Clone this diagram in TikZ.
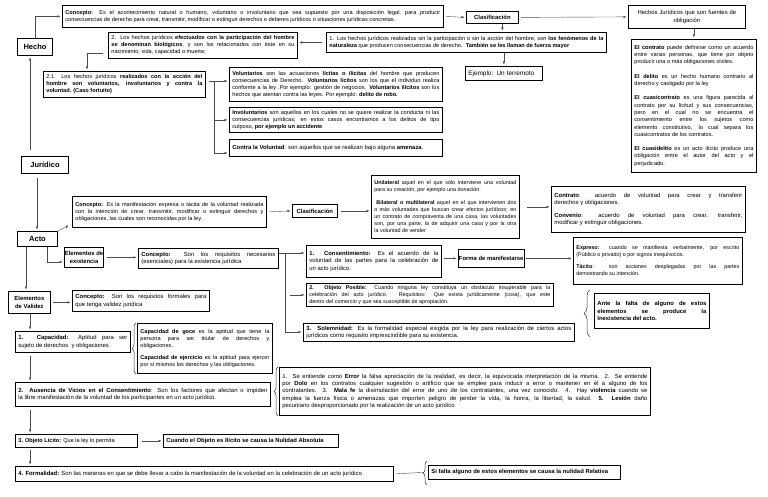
\documentclass[tikz,border=0pt]{standalone}
\usepackage{fontspec}
\setmainfont{Liberation Sans}
\usetikzlibrary{arrows.meta,decorations.pathreplacing}
\hyphenpenalty=10000
\exhyphenpenalty=10000
\tolerance=9999
\emergencystretch=4pt

\begin{document}
\begin{tikzpicture}[x=1pt, y=-1pt,
  box/.style={draw, line width=0.8pt, anchor=north west, inner xsep=3pt, inner ysep=2pt, align=justify, font=\fontsize{5.6}{6.9}\selectfont},
  bbox/.style={box, font=\fontsize{5.9}{7.2}\selectfont},
  hd/.style={draw, line width=1pt, anchor=north west, inner sep=1pt, font=\bfseries\fontsize{7.5}{9}\selectfont},
  tag/.style={draw, line width=0.8pt, anchor=north west, inner xsep=0.5pt, inner ysep=1pt, align=center, font=\bfseries\fontsize{5.9}{7.2}\selectfont},
  bold/.style={font=\bfseries\fontsize{5.9}{7.2}\selectfont},
  arr/.style={draw=black!70, line width=0.4pt, -{Latex[length=3pt,width=2.4pt]}, shorten >=1.5pt},
  ln/.style={draw=black!70, line width=0.4pt},
  brc/.style={draw=black!80, line width=0.5pt, decorate, decoration={brace, amplitude=#1}},
  brc/.default=4pt]
  \fill[white] (0,0) rectangle (768,497);
  \useasboundingbox (0,0) rectangle (768,497);

  % Hecho
  \node[hd, minimum width=35pt, minimum height=17pt] (hecho) at (17,38) {Hecho};
  \node[box, text width=375pt, minimum height=22pt] (cptoHecho) at (62,5) {\textbf{Concepto:} Es el acontecimiento natural o humano, voluntario o involuntario que sea supuesto por una disposición legal, para producir\linebreak consecuencias de derecho para crear, transmitir, modificar o extinguir derechos o deberes jurídicos o situaciones jurídicas concretas.};
  \node[tag, minimum width=52pt, minimum height=12pt] (clasif) at (466,11) {Clasificación};
  \node[bbox, align=center, text width=111pt, minimum height=23pt] (fuentes) at (628,5) {Hechos Jurídicos que son fuentes de\\obligación};
  \node[box, text width=274pt, minimum height=20pt] (natur) at (326,32) {1. Los hechos jurídicos realizados sin la participación o sin la acción del hombre, son \textbf{los fenómenos de la}\linebreak \textbf{naturaleza} que producen consecuencias de derecho.\ \ \textbf{También se les llaman de fuerza mayor}};
  \node[box, text width=183pt, minimum height=26pt] (biolog) at (108,32) {2. Los hechos jurídicos \textbf{efectuados con la participación del hombre}\linebreak \textbf{se denominan biológicos}, y son los relacionados con éste en su\linebreak nacimiento, vida, capacidad o muerte;};
  \node[box, align=left, text width=71pt, minimum height=14pt, font=\fontsize{6.4}{7.4}\selectfont] (ejemplo) at (465,66) {Ejemplo: Un terremoto};
  \node[box, text width=156pt, minimum height=26pt] (accion) at (43,71) {2.1\ \ Los hechos jurídicos \textbf{realizados con la acción del}\linebreak \textbf{hombre son voluntarios, involuntarios y contra la}\linebreak \textbf{voluntad. (Caso fortuito)}};
  \node[box, text width=207pt, minimum height=34pt] (volunt) at (229,67) {\textbf{Voluntarios} son las actuaciones \textbf{lícitas o ilícitas} del hombre que producen\linebreak consecuencias de Derecho. \textbf{Voluntarios lícitos} son los que el individuo realiza\linebreak conforme a la ley .Por ejemplo: gestión de negocios. \textbf{Voluntarios ilícitos} son los\linebreak hechos que atentan contra las leyes. Por ejemplo: \textbf{delito de robo.}};
  \node[box, text width=207pt, minimum height=25pt] (involunt) at (229,107) {\textbf{Involuntarios} son aquellos en los cuales no se quiere realizar la conducta ni las\linebreak consecuencias jurídicas; en estos casos encontramos a los delitos de tipo\linebreak culposo, \textbf{por ejemplo un accidente}};
  \node[bbox, text width=207pt, minimum height=17pt] (contra) at (229,139) {\textbf{Contra la Voluntad}: son aquellos que se realizan bajo alguna \textbf{amenaza}.};
  \node[box, font=\fontsize{5.6}{7.3}\selectfont, text width=119pt, minimum height=133pt] (obligac) at (631,39) {\textbf{El contrato} puede definirse como un acuerdo\linebreak entre varias personas, que tiene por objeto\linebreak producir una o más obligaciones civiles.\par\vspace{7pt}
    \textbf{El delito} es un hecho humano contrario al\linebreak derecho y castigado por la ley\par\vspace{7pt}
    \textbf{El cuasicontrato} es una figura parecida al\linebreak contrato por su licitud y sus consecuencias,\linebreak pero en el cual no se encuentra el\linebreak consentimiento entre los sujetos como\linebreak elemento constitutivo, lo cual separa los\linebreak cuasicontratos de los contratos.\par\vspace{7pt}
    \textbf{El cuasidelito} es un acto ilícito produce una\linebreak obligación entre el autor del acto y el\linebreak perjudicado.};

  % Jurídico
  \node[hd, minimum width=47pt, minimum height=17pt] (juridico) at (21,156) {Jurídico};

  % Acto
  \node[box, text width=188pt, minimum height=31pt] (cptoActo) at (72,196) {\textbf{Concepto:} Es la manifestación expresa o tácita de la voluntad realizada\linebreak con la intención de crear, transmitir, modificar o extinguir derechos y\linebreak obligaciones, las cuales son reconocidas por la ley.};
  \node[tag, minimum width=45pt, minimum height=13pt] (clasif2) at (292,204) {Clasificación};
  \node[box, font=\fontsize{5.4}{7}\selectfont, text width=142pt, minimum height=63pt] (unilat) at (371,175) {\textbf{Unilateral} aquel en el que sólo interviene una voluntad\linebreak para su creación, por ejemplo una donación.\par\vspace{6pt}
    \hspace*{2pt}\textbf{Bilateral o multilateral} aquel en el que intervienen dos\linebreak o más voluntades que buscan crear efectos jurídicos; en\linebreak un contrato de compraventa de una casa, las voluntades\linebreak son, por una parte, la de adquirir una casa y por la otra\linebreak la voluntad de vender};
  \node[bbox, text width=188pt, minimum height=46pt] (contrato) at (551,186) {\textbf{Contrato}: acuerdo de voluntad para crear y transferir\linebreak derechos y obligaciones.\par\vspace{5pt}
    \textbf{Convenio}: acuerdo de voluntad para crear, transferir,\linebreak modificar y extinguir obligaciones.};
  \node[hd, minimum width=40pt, minimum height=15pt] (acto) at (17,231) {Acto};
  \node[tag, minimum width=38pt, minimum height=20pt] (elemExist) at (64,247) {Elementos de\\existencia};
  \node[bbox, text width=134pt, minimum height=20pt] (cptoExist) at (138,248) {\textbf{Concepto:}\ \ Son los requisitos necesarios\linebreak (esenciales) para la existencia jurídica};
  \node[bbox, text width=129pt, minimum height=32pt] (consent) at (306,245) {\textbf{1. Consentimiento:} Es el acuerdo de la\linebreak voluntad de las partes para la celebración de\linebreak un acto jurídico.};
  \node[tag, minimum width=59pt, minimum height=18pt] (forma) at (458,249) {Forma de manifestarse};
  \node[box, font=\fontsize{5.4}{6.9}\selectfont, text width=163pt, minimum height=47pt] (expreso) at (573,237) {\textbf{Expreso:} cuando se manifiesta verbalmente, por escrito\linebreak (Público o privado) o por signos inequívocos.\par\vspace{5pt}
    \textbf{Tácito}: son acciones desplegadas por las partes\linebreak demostrando su intención.};
  \node[box, font=\fontsize{5.4}{6.9}\selectfont, text width=241pt, minimum height=23pt] (objPosible) at (306,283) {\textbf{2. Objeto Posible:} Cuando ninguna ley constituya un obstáculo insuperable para la\linebreak celebración del acto jurídico. Requisitos: Que exista jurídicamente (cosa), que este\linebreak dentro del comercio y que sea susceptible de apropiación.};
  \node[bbox, text width=265pt, minimum height=18pt] (solemn) at (303,323) {\textbf{3. Solemnidad:} Es la formalidad especial exigida por la ley para realización de ciertos actos\linebreak jurídicos como requisito imprescindible para su existencia.};
  \node[box, bold, text width=109pt, minimum height=35pt] (inexist) at (594,293) {Ante la falta de alguno de estos\linebreak elementos se produce la\linebreak Inexistencia del acto.};

  % Elementos de validez
  \node[tag, minimum width=42pt, minimum height=22pt] (elemValid) at (8,291) {Elementos\\de Validez};
  \node[bbox, text width=131pt, minimum height=21pt] (cptoValid) at (72,290) {\textbf{Concepto:} Son los requisitos formales para\linebreak que tenga validez jurídica};
  \node[bbox, text width=109pt, minimum height=21pt] (capac) at (15,331) {\textbf{1. Capacidad:} Aptitud para ser\linebreak sujeto de derechos\ \ y obligaciones};
  \node[box, text width=129pt, minimum height=50pt] (goce) at (137,323) {\textbf{Capacidad de goce} es la aptitud que tiene la\linebreak persona para ser titular de derechos y\linebreak obligaciones.\par\vspace{5pt}
    \textbf{Capacidad de ejercicio} es la aptitud para ejercer\linebreak por sí mismos los derechos y las obligaciones.};
  \node[bbox, text width=249pt, minimum height=24pt] (ausencia) at (15,382) {\textbf{2. Ausencia de Vicios en el Consentimiento}: Son los factores que afectan o impiden\linebreak la libre manifestación de la voluntad de los participantes en un acto jurídico.};
  \node[bbox, text width=365pt, minimum height=48pt] (vicios) at (279,367) {1. Se entiende como \textbf{Error} la falsa apreciación de la realidad, es decir, la equivocada interpretación de la misma.\ \ 2. Se entiende\linebreak por \textbf{Dolo} en los contratos cualquier sugestión o artificio que se emplee para inducir a error o mantener en él a alguno de los\linebreak contratantes.\ \ 3. \textbf{Mala fe} la disimulación del error de uno de los contratantes, una vez conocido. 4. Hay \textbf{violencia} cuando se\linebreak emplea la fuerza física o amenazas que importen peligro de perder la vida, la honra, la libertad, la salud.\ \ \textbf{5. Lesión} daño\linebreak pecuniario desproporcionado por la realización de un acto jurídico};
  \node[box, text width=116pt, minimum height=13pt] (objLicito) at (15,434) {\textbf{3. Objeto Lícito:} Que la ley lo permita};
  \node[box, bold, text width=169pt, minimum height=13pt] (nulAbs) at (163,434) {Cuando el Objeto es Ilícito se causa la Nulidad Absoluta};
  \node[bbox, text width=372pt, minimum height=15pt] (formal) at (15,466) {\textbf{4. Formalidad:} Son las maneras en que se debe llevar a cabo la manifestación de la voluntad en la celebración de un acto jurídico};
  \node[box, bold, text width=186pt, minimum height=14pt] (nulRel) at (428,465) {Si falta alguno de estos elementos se causa la nulidad Relativa};

  % connectors, top part
  \coordinate (jH) at (30,0);
  \coordinate (bA) at (87,53);
  \coordinate (vT) at (214,81);
  \coordinate (vB) at (214,153);
  \draw[arr] (hecho.north) |- (cptoHecho.west);
  \draw[arr, shorten <=6pt] (juridico.north -| jH) -- (hecho.south -| jH);
  \draw[arr, shorten <=2pt] (cptoHecho.east) -- (clasif.west);
  \draw[arr, shorten <=2pt] (clasif.east) -- (fuentes.west);
  \draw[arr] ([xshift=10pt]clasif.south) -- ([xshift=10pt]clasif.south |- natur.north);
  \draw[arr] (ejemplo.north |- natur.south) -- (ejemplo.north);
  \draw[arr, shorten <=4pt] (natur.west) -- (natur.west -| biolog.east);
  \draw[arr, shorten <=5pt] (bA -| biolog.west) -- (bA) -- (bA |- accion.north);
  \draw[ln, shorten <=3pt] (vT -| accion.east) -- (vT) -- (vB);
  \draw[arr] (vT) -- (vT -| volunt.west);
  \draw[arr] (vT |- involunt.west) -- (involunt.west);
  \draw[arr] (vB) -- (vB -| contra.west);
  \draw[arr] (obligac.north |- fuentes.south) -- (obligac.north);

  % connectors, Acto
  \coordinate (jA) at (37,0);
  \coordinate (aE) at (47,262);
  \coordinate (cT) at (285,253);
  \coordinate (cB) at (285,332);
  \draw[arr, shorten <=4pt] (juridico.south -| jA) -- (acto.north -| jA);
  \draw[arr] (acto.north east) -- ([shift={(-2pt,3pt)}]cptoActo.south west);
  \draw[arr, shorten <=2pt] (cptoActo.east) -- (clasif2.west);
  \draw[arr, shorten <=3pt] (clasif2.east) -- (clasif2.east -| unilat.west);
  \draw[arr, shorten <=7pt] (unilat.east) -- (unilat.east -| contrato.west);
  \draw[arr] (aE |- acto.south) -- (aE) -- (aE -| elemExist.west);
  \draw[arr, shorten <=3pt] (elemExist.east) -- (elemExist.east -| cptoExist.west);
  \draw[ln] (cT -| cptoExist.east) -- (cT) -- (cB);
  \draw[arr] (cT) -- (cT -| consent.west);
  \draw[arr, shorten <=5pt] (cT |- objPosible.west) -- (objPosible.west);
  \draw[arr] (cB) -- (cB -| solemn.west);
  \draw[arr, shorten <=2pt] (forma.west -| consent.east) -- (forma.west);
  \draw[arr, shorten <=2pt] (forma.east) -- (forma.east -| expreso.west);
  \draw[brc=6pt] ([shift={(-4pt,-8pt)}]inexist.south west) -- ([shift={(-4pt,3pt)}]inexist.north west);

  % connectors, validez
  \coordinate (aV) at (26,0);
  \coordinate (lV) at (30,0);
  \coordinate (rTip) at ([xshift=-5pt]nulRel.west);
  \draw[arr] (acto.south -| aV) -- (elemValid.north -| aV);
  \draw[arr, shorten <=2pt] (elemValid.east) -- (elemValid.east -| cptoValid.west);
  \draw[arr] (elemValid.south -| lV) -- (capac.north -| lV);
  \draw[arr, shorten <=3pt] (capac.south -| lV) -- (ausencia.north -| lV);
  \draw[arr, shorten <=3pt] (ausencia.south -| lV) -- (objLicito.north -| lV);
  \draw[arr, shorten <=2pt] (objLicito.south -| lV) -- (formal.north -| lV);
  \draw[arr, shorten <=4pt] (objLicito.east) -- (nulAbs.west);
  \draw[brc] ([xshift=-1pt]goce.south west) -- ([xshift=-1pt]goce.north west);
  \draw[brc] ([xshift=-1pt]vicios.south west) -- ([xshift=-1pt]vicios.north west);
  \draw[brc] ([shift={(-1pt,-5pt)}]nulRel.south west) -- ([shift={(-1pt,4pt)}]nulRel.north west);
  \draw[ln, shorten <=2pt] (formal.east) -- (rTip);
\end{tikzpicture}
\end{document}
